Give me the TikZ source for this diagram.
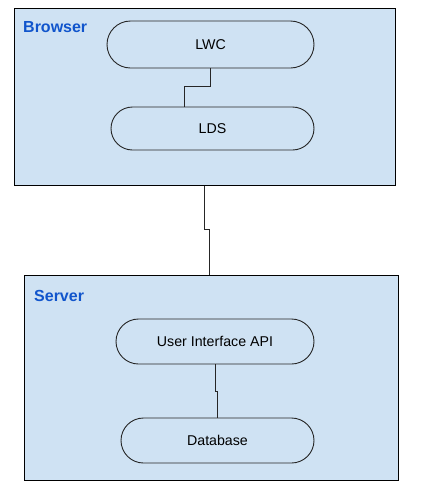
\documentclass[tikz,border=0pt]{standalone}
\usepackage{fontspec}
\setmainfont{Liberation Sans}
\usetikzlibrary{shapes.misc}
\definecolor{tierfill}{HTML}{CFE2F3}
\definecolor{tierblue}{HTML}{1155CC}

\begin{document}
\begin{tikzpicture}[x=1pt,y=-1pt,
    tier/.style={draw=black,fill=tierfill,line width=1pt,inner sep=0pt},
    tiername/.style={anchor=west,inner sep=0pt,text=tierblue,font=\fontsize{16}{18}\selectfont\bfseries},
    pill/.style={rounded rectangle,draw=black!85,line width=0.9pt,minimum height=45pt,inner sep=0pt,font=\fontsize{14.2}{16}\selectfont},
    wire/.style={draw=black!85,line width=0.9pt}]
  \useasboundingbox[fill=white] (0,0) rectangle (430,488);
  % tiers
  \node[tier,minimum width=381pt,minimum height=177pt] (browser) at (204.5,96.5) {};
  \node[tier,minimum width=374pt,minimum height=205pt] (server) at (211,377.5) {};
  \node[tiername] (browserlabel) at (23,27.5) {Browser};
  \node[tiername] (serverlabel) at (34,295.5) {Server};
  % components
  \node[pill,minimum width=207pt,minimum height=47pt] (lwc) at (210.5,44.5) {LWC};
  \node[pill,minimum width=203pt,minimum height=43pt] (lds) at (212.5,128.5) {LDS};
  \node[pill,minimum width=198pt] (uiapi) at (215,341.5) {User Interface API};
  \node[pill,minimum width=193pt] (db) at (217.5,440.5) {Database};
  % links
  \draw[wire] (lwc.south) -- ++(0,18) -| ([xshift=-28.5pt]lds.north);
  \draw[wire] (browser.south) -- ++(0,44) -| ([xshift=-2pt]server.north);
  \draw[wire] (uiapi.south) -- ++(0,27) -| (db.north);
\end{tikzpicture}
\end{document}
